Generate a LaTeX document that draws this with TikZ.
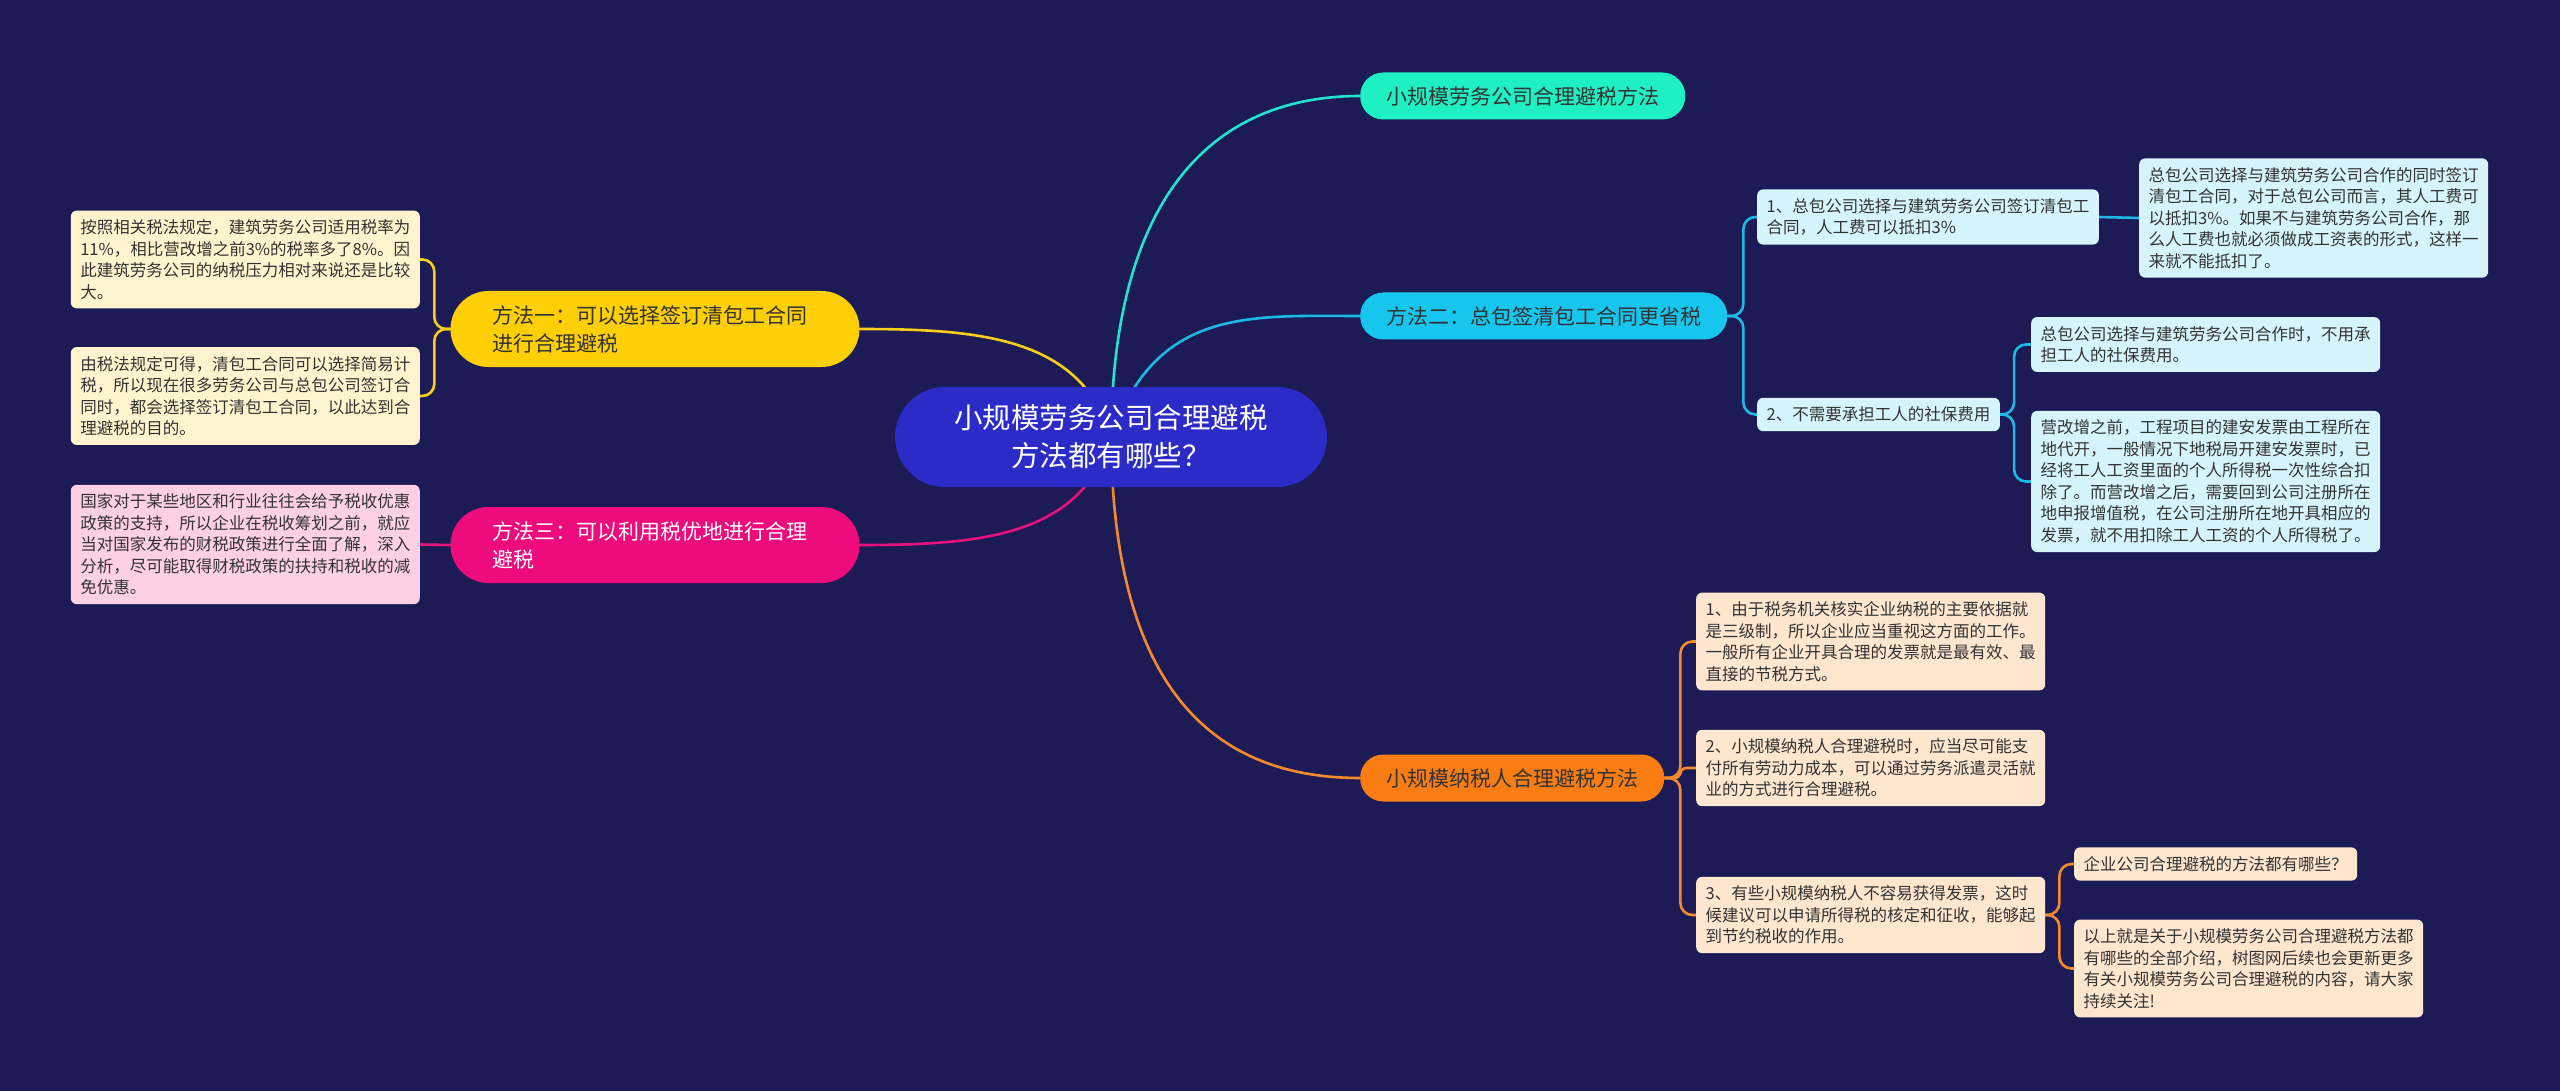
\documentclass[tikz,border=0pt]{standalone}
\usepackage{fontspec}
\setmainfont{Noto Sans CJK SC}
\usetikzlibrary{calc}
\definecolor{bgc}{HTML}{1C1B55}
\definecolor{rootc}{HTML}{2B2CC7}
\definecolor{tealc}{HTML}{1EF0C4}
\definecolor{teall}{HTML}{22E3D0}
\definecolor{cyanc}{HTML}{16C6EF}
\definecolor{cyanl}{HTML}{1CB8E6}
\definecolor{cyanleaf}{HTML}{D5F4FB}
\definecolor{orac}{HTML}{F97D12}
\definecolor{oral}{HTML}{F58A2C}
\definecolor{oraleaf}{HTML}{FFE6CF}
\definecolor{yelc}{HTML}{FFCF05}
\definecolor{yell}{HTML}{F8CE1A}
\definecolor{yelleaf}{HTML}{FFF4CE}
\definecolor{pinkc}{HTML}{EE0B7C}
\definecolor{pinkl}{HTML}{E8127E}
\definecolor{pinkleaf}{HTML}{FDD0E4}
\definecolor{txt}{HTML}{333333}
\pgfdeclarelayer{bgfill}
\pgfdeclarelayer{edges}
\pgfsetlayers{bgfill,edges,main}
\tikzset{
  leaf/.style={rounded corners=6, inner xsep=9.5, inner ysep=9, align=left, text=txt,
    font=\fontsize{16.5}{21.5}\selectfont},
  lvone/.style={rounded corners=23, minimum height=47, inner xsep=26, inner ysep=6,
    font=\fontsize{21}{28}\selectfont},
  lvtwo/.style={rounded corners=38, minimum height=76, text width=325, inner xsep=42,
    inner ysep=8, align=left, font=\fontsize{21}{28}\selectfont},
  edge/.style={line width=2.6, line cap=round},
}
\begin{document}
\begin{tikzpicture}[x=1pt,y=-1pt]
\begin{pgfonlayer}{bgfill}
\fill[bgc] (0,0) rectangle (2560,1091);
\end{pgfonlayer}
\useasboundingbox (0,0) rectangle (2560,1091);

% root
\node[fill=rootc, rounded corners=50, minimum width=432, minimum height=100, align=center,
  text=white, font=\fontsize{28.5}{38}\selectfont] (root) at (1111,437)
  {小规模劳务公司合理避税\\方法都有哪些？};

% level one right
\node[lvone, fill=tealc, text=txt, anchor=west] (t1) at (1360,96) {小规模劳务公司合理避税方法};
\node[lvone, fill=cyanc, text=txt, anchor=west] (t2) at (1360,316) {方法二：总包签清包工合同更省税};
\node[lvone, fill=orac, text=txt, anchor=west] (t3) at (1360,778) {小规模纳税人合理避税方法};

% level one left
\node[lvtwo, fill=yelc, text=txt] (m1) at (655,329) {方法一：可以选择签订清包工合同\\进行合理避税};
\node[lvtwo, fill=pinkc, text=white] (m3) at (655,545) {方法三：可以利用税优地进行合理\\避税};

% left leaves
\node[leaf, fill=yelleaf, anchor=east] (la) at (420,259.5)
  {按照相关税法规定，建筑劳务公司适用税率为\\11\%，相比营改增之前3\%的税率多了8\%。因\\此建筑劳务公司的纳税压力相对来说还是比较\\大。};
\node[leaf, fill=yelleaf, anchor=east] (lb) at (420,396)
  {由税法规定可得，清包工合同可以选择简易计\\税，所以现在很多劳务公司与总包公司签订合\\同时，都会选择签订清包工合同，以此达到合\\理避税的目的。};
\node[leaf, fill=pinkleaf, anchor=east] (lc) at (420,544.5)
  {国家对于某些地区和行业往往会给予税收优惠\\政策的支持，所以企业在税收筹划之前，就应\\当对国家发布的财税政策进行全面了解，深入\\分析，尽可能取得财税政策的扶持和税收的减\\免优惠。};

% cyan branch
\node[leaf, fill=cyanleaf, anchor=west] (b1) at (1757,217)
  {1、总包公司选择与建筑劳务公司签订清包工\\合同，人工费可以抵扣3\%};
\node[leaf, fill=cyanleaf, anchor=west] (b1l) at (2139,218)
  {总包公司选择与建筑劳务公司合作的同时签订\\清包工合同，对于总包公司而言，其人工费可\\以抵扣3\%。如果不与建筑劳务公司合作，那\\么人工费也就必须做成工资表的形式，这样一\\来就不能抵扣了。};
\node[leaf, fill=cyanleaf, anchor=west] (b2) at (1757,414.5) {2、不需要承担工人的社保费用};
\node[leaf, fill=cyanleaf, anchor=west] (b2a) at (2031,344.5)
  {总包公司选择与建筑劳务公司合作时，不用承\\担工人的社保费用。};
\node[leaf, fill=cyanleaf, anchor=west] (b2b) at (2031,481.5)
  {营改增之前，工程项目的建安发票由工程所在\\地代开，一般情况下地税局开建安发票时，已\\经将工人工资里面的个人所得税一次性综合扣\\除了。而营改增之后，需要回到公司注册所在\\地申报增值税，在公司注册所在地开具相应的\\发票，就不用扣除工人工资的个人所得税了。};

% orange branch
\node[leaf, fill=oraleaf, anchor=west] (o1) at (1696,641.5)
  {1、由于税务机关核实企业纳税的主要依据就\\是三级制，所以企业应当重视这方面的工作。\\一般所有企业开具合理的发票就是最有效、最\\直接的节税方式。};
\node[leaf, fill=oraleaf, anchor=west] (o2) at (1696,768)
  {2、小规模纳税人合理避税时，应当尽可能支\\付所有劳动力成本，可以通过劳务派遣灵活就\\业的方式进行合理避税。};
\node[leaf, fill=oraleaf, anchor=west] (o3) at (1696,915)
  {3、有些小规模纳税人不容易获得发票，这时\\候建议可以申请所得税的核定和征收，能够起\\到节约税收的作用。};
\node[leaf, fill=oraleaf, anchor=west] (o3a) at (2074,864) {企业公司合理避税的方法都有哪些？};
\node[leaf, fill=oraleaf, anchor=west] (o3b) at (2074,968.5)
  {以上就是关于小规模劳务公司合理避税方法都\\有哪些的全部介绍，树图网后续也会更新更多\\有关小规模劳务公司合理避税的内容，请大家\\持续关注!};

\begin{pgfonlayer}{edges}
% root connectors
\draw[edge, teall] (root.center) .. controls ($(root.center)+(2,-250)$) and ($(t1.west)+(-140,0)$) .. (t1.west);
\draw[edge, cyanl] (root.center) .. controls ($(root.center)+(45,-130)$) and ($(t2.west)+(-110,0)$) .. (t2.west);
\draw[edge, oral] (root.center) .. controls ($(root.center)+(2,260)$) and ($(t3.west)+(-140,0)$) .. (t3.west);
\draw[edge, yell] (root.center) .. controls ($(root.center)+(-30,-100)$) and ($(m1.east)+(120,0)$) .. (m1.east);
\draw[edge, pinkl] (root.center) .. controls ($(root.center)+(-30,100)$) and ($(m3.east)+(120,0)$) .. (m3.east);
% left
\draw[edge, yell, rounded corners=12] (m1.west) -- ++(-16,0) |- (la.east);
\draw[edge, yell, rounded corners=12] (m1.west) -- ++(-16,0) |- (lb.east);
\draw[edge, pinkl] (m3.west) -- (lc.east);
% cyan
\draw[edge, cyanl, rounded corners=12] (t2.east) -- ++(16,0) |- (b1.west);
\draw[edge, cyanl, rounded corners=12] (t2.east) -- ++(16,0) |- (b2.west);
\draw[edge, cyanl] (b1.east) -- (b1l.west);
\draw[edge, cyanl, rounded corners=12] (b2.east) -- ++(14,0) |- (b2a.west);
\draw[edge, cyanl, rounded corners=12] (b2.east) -- ++(14,0) |- (b2b.west);
% orange
\draw[edge, oral, rounded corners=12] (t3.east) -- ++(16,0) |- (o1.west);
\draw[edge, oral, rounded corners=6] (t3.east) -- ++(16,0) |- (o2.west);
\draw[edge, oral, rounded corners=12] (t3.east) -- ++(16,0) |- (o3.west);
\draw[edge, oral, rounded corners=12] (o3.east) -- ++(14,0) |- (o3a.west);
\draw[edge, oral, rounded corners=12] (o3.east) -- ++(14,0) |- (o3b.west);
\end{pgfonlayer}
\end{tikzpicture}
\end{document}
